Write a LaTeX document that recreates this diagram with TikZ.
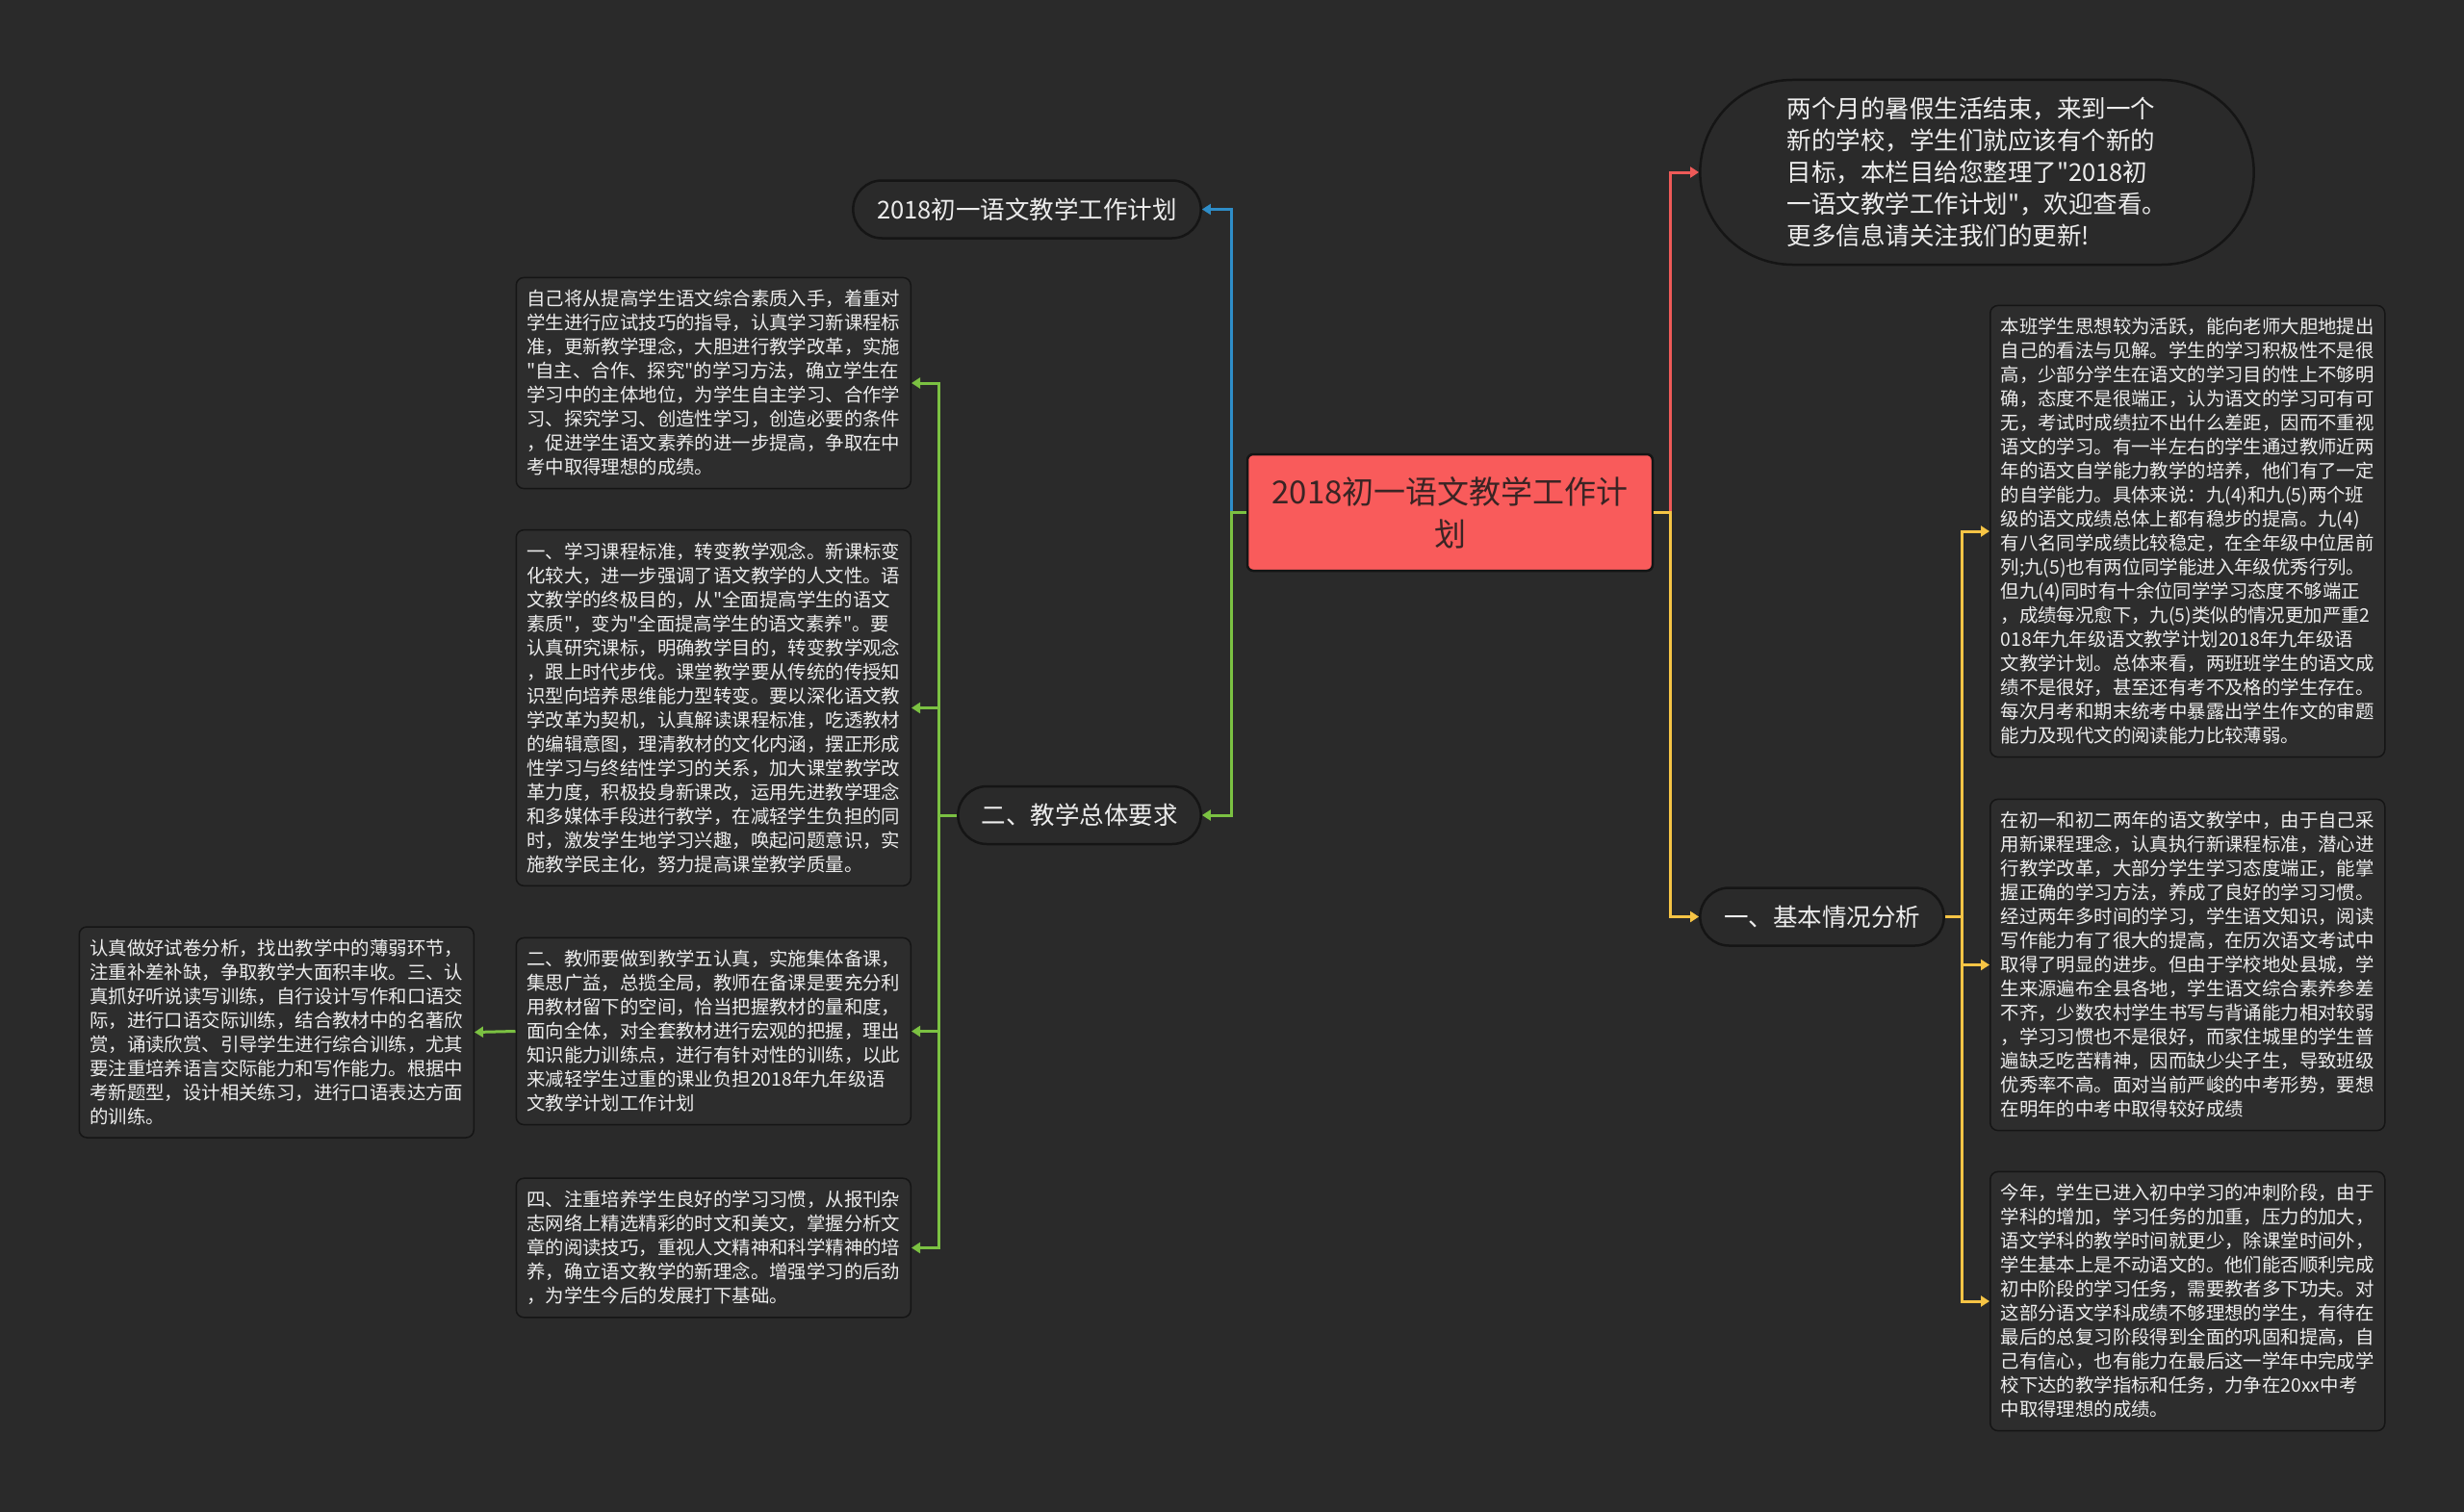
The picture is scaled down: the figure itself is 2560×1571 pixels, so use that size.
\documentclass[tikz,border=0pt]{standalone}
\usepackage{fontspec}
\setmainfont{Noto Sans CJK SC}[Ligatures=TeXOff]
\usepackage{xcolor}
\usetikzlibrary{arrows.meta,shapes.misc}

\definecolor{canvas}{HTML}{2A2A2A}
\definecolor{boxfill}{HTML}{2D2D2D}
\definecolor{edge}{HTML}{151515}
\definecolor{rootred}{HTML}{F95B5B}
\definecolor{rootink}{HTML}{3A2424}
\definecolor{inktext}{HTML}{EDEDED}
\definecolor{linkblue}{HTML}{2E8DC8}
\definecolor{linkgreen}{HTML}{7BC142}
\definecolor{linkred}{HTML}{EE5A58}
\definecolor{linkyellow}{HTML}{F6C445}

\begin{document}
\begin{tikzpicture}[
  x=1pt, y=-1pt,
  root/.style={
    draw=edge, fill=rootred, rounded corners=6pt, line width=2.5pt,
    minimum width=421pt, minimum height=121pt, text width=390pt,
    align=center, text=rootink, font=\fontsize{33}{44}\selectfont
  },
  topic/.style={
    rounded rectangle, draw=edge, fill=canvas, line width=2.5pt,
    minimum height=60pt, text=inktext, align=left,
    font=\fontsize{25.5}{33}\selectfont
  },
  note/.style={
    draw=edge, fill=boxfill, rounded corners=8pt, line width=1.5pt,
    text width=388pt, inner xsep=11pt, inner ysep=13pt, align=left,
    text=inktext, font=\fontsize{19.4}{25}\selectfont
  },
  link/.style={
    -{Triangle[length=9pt,width=11pt]}, line width=3pt, draw=#1
  }
]

\fill[canvas] (0,0) rectangle (2560,1571);
\useasboundingbox (0,0) rectangle (2560,1571);

% Centre
\node[root] (plan) at (1506.5,532.5) {2018初一语文教学工作计\\划};

% Left branch
\node[topic, minimum width=368pt] (title) at (1067,217.5) {2018初一语文教学工作计划};
\node[topic, minimum width=259pt] (req) at (1121.5,847) {二、教学总体要求};

\node[note, anchor=east] (req1) at (947,398) {自己将从提高学生语文综合素质入手，着重对\\学生进行应试技巧的指导，认真学习新课程标\\准，更新教学理念，大胆进行教学改革，实施\\"自主、合作、探究"的学习方法，确立学生在\\学习中的主体地位，为学生自主学习、合作学\\习、探究学习、创造性学习，创造必要的条件\\，促进学生语文素养的进一步提高，争取在中\\考中取得理想的成绩。};
\node[note, anchor=east] (req2) at (947,735.5) {一、学习课程标准，转变教学观念。新课标变\\化较大，进一步强调了语文教学的人文性。语\\文教学的终极目的，从"全面提高学生的语文\\素质"，变为"全面提高学生的语文素养"。要\\认真研究课标，明确教学目的，转变教学观念\\，跟上时代步伐。课堂教学要从传统的传授知\\识型向培养思维能力型转变。要以深化语文教\\学改革为契机，认真解读课程标准，吃透教材\\的编辑意图，理清教材的文化内涵，摆正形成\\性学习与终结性学习的关系，加大课堂教学改\\革力度，积极投身新课改，运用先进教学理念\\和多媒体手段进行教学，在减轻学生负担的同\\时，激发学生地学习兴趣，唤起问题意识，实\\施教学民主化，努力提高课堂教学质量。};
\node[note, anchor=east] (req3) at (947,1071.5) {二、教师要做到教学五认真，实施集体备课，\\集思广益，总揽全局，教师在备课是要充分利\\用教材留下的空间，恰当把握教材的量和度，\\面向全体，对全套教材进行宏观的把握，理出\\知识能力训练点，进行有针对性的训练，以此\\来减轻学生过重的课业负担2018年九年级语\\文教学计划工作计划};
\node[note, anchor=east] (req3b) at (493,1072.5) {认真做好试卷分析，找出教学中的薄弱环节，\\注重补差补缺，争取教学大面积丰收。三、认\\真抓好听说读写训练，自行设计写作和口语交\\际，进行口语交际训练，结合教材中的名著欣\\赏，诵读欣赏、引导学生进行综合训练，尤其\\要注重培养语言交际能力和写作能力。根据中\\考新题型，设计相关练习，进行口语表达方面\\的训练。};
\node[note, anchor=east] (req4) at (947,1296.5) {四、注重培养学生良好的学习习惯，从报刊杂\\志网络上精选精彩的时文和美文，掌握分析文\\章的阅读技巧，重视人文精神和科学精神的培\\养，确立语文教学的新理念。增强学习的后劲\\，为学生今后的发展打下基础。};

% Right branch
\node[topic, minimum width=582pt, minimum height=192pt] (intro) at (2054,179) {两个月的暑假生活结束，来到一个\\新的学校，学生们就应该有个新的\\目标，本栏目给您整理了"2018初\\一语文教学工作计划"，欢迎查看。\\更多信息请关注我们的更新!};
\node[topic, minimum width=260pt] (basic) at (1893,952.5) {一、基本情况分析};

\node[note, anchor=west] (basic1) at (2067,552) {本班学生思想较为活跃，能向老师大胆地提出\\自己的看法与见解。学生的学习积极性不是很\\高，少部分学生在语文的学习目的性上不够明\\确，态度不是很端正，认为语文的学习可有可\\无，考试时成绩拉不出什么差距，因而不重视\\语文的学习。有一半左右的学生通过教师近两\\年的语文自学能力教学的培养，他们有了一定\\的自学能力。具体来说：九(4)和九(5)两个班\\级的语文成绩总体上都有稳步的提高。九(4)\\有八名同学成绩比较稳定，在全年级中位居前\\列;九(5)也有两位同学能进入年级优秀行列。\\但九(4)同时有十余位同学学习态度不够端正\\，成绩每况愈下，九(5)类似的情况更加严重2\\018年九年级语文教学计划2018年九年级语\\文教学计划。总体来看，两班班学生的语文成\\绩不是很好，甚至还有考不及格的学生存在。\\每次月考和期末统考中暴露出学生作文的审题\\能力及现代文的阅读能力比较薄弱。};
\node[note, anchor=west] (basic2) at (2067,1002.5) {在初一和初二两年的语文教学中，由于自己采\\用新课程理念，认真执行新课程标准，潜心进\\行教学改革，大部分学生学习态度端正，能掌\\握正确的学习方法，养成了良好的学习习惯。\\经过两年多时间的学习，学生语文知识，阅读\\写作能力有了很大的提高，在历次语文考试中\\取得了明显的进步。但由于学校地处县城，学\\生来源遍布全县各地，学生语文综合素养参差\\不齐，少数农村学生书写与背诵能力相对较弱\\，学习习惯也不是很好，而家住城里的学生普\\遍缺乏吃苦精神，因而缺少尖子生，导致班级\\优秀率不高。面对当前严峻的中考形势，要想\\在明年的中考中取得较好成绩};
\node[note, anchor=west] (basic3) at (2067,1352) {今年，学生已进入初中学习的冲刺阶段，由于\\学科的增加，学习任务的加重，压力的加大，\\语文学科的教学时间就更少，除课堂时间外，\\学生基本上是不动语文的。他们能否顺利完成\\初中阶段的学习任务，需要教者多下功夫。对\\这部分语文学科成绩不够理想的学生，有待在\\最后的总复习阶段得到全面的巩固和提高，自\\己有信心，也有能力在最后这一学年中完成学\\校下达的教学指标和任务，力争在20xx中考\\中取得理想的成绩。};

% Hubs
\coordinate (lhub) at (1279,532.5);
\coordinate (rhub) at (1735,532.5);
\coordinate (reqhub) at (975,847);
\coordinate (basichub) at (2038,952.5);

% Connectors
\draw[link=linkblue] (plan.west) -- (lhub) |- (title.east);
\draw[link=linkgreen] (plan.west) -- (lhub) |- (req.east);
\foreach \n in {req1,req2,req3,req4}
  \draw[link=linkgreen] (req.west) -- (reqhub) |- (\n.east);
\draw[link=linkgreen] (req3.west) -- (req3b.east);

\draw[link=linkred] (plan.east) -- (rhub) |- (intro.west);
\draw[link=linkyellow] (plan.east) -- (rhub) |- (basic.west);
\foreach \n in {basic1,basic2,basic3}
  \draw[link=linkyellow] (basic.east) -- (basichub) |- (\n.west);

\end{tikzpicture}
\end{document}
